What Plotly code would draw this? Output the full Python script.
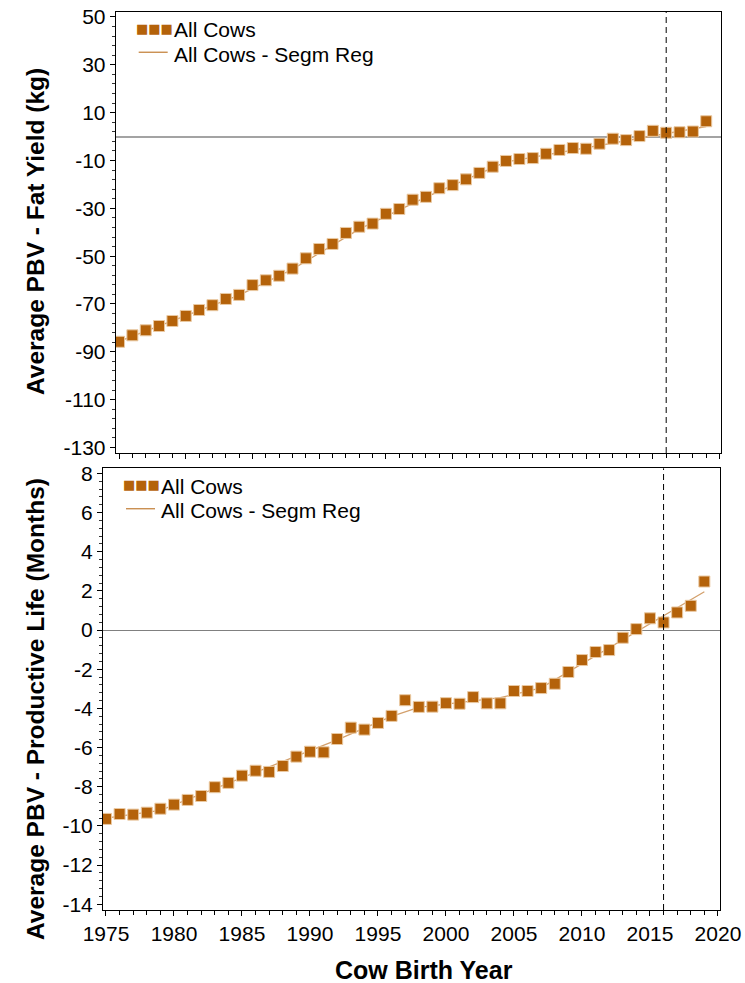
import plotly.graph_objects as go

# ---- data -------------------------------------------------------------
years = list(range(1975, 2020))

# Average PBV - Fat Yield (kg), all cows by birth year
fat_yield = [-85.8, -83.1, -81.0, -79.2, -77.1, -75.0, -72.5, -70.5, -67.9, -66.2,
             -62.1, -60.1, -58.2, -55.2, -50.9, -47.0, -44.9, -40.3, -37.7, -36.4,
             -32.3, -30.3, -26.4, -25.2, -21.6, -20.3, -17.9, -15.2, -12.6, -10.2,
             -9.4, -9.0, -7.2, -5.6, -4.8, -5.1, -3.0, -0.9, -1.5, 0.2,
             2.4, 1.6, 1.8, 2.1, 6.4]

# Segmented regression (breakpoints) for fat yield
fat_reg_years = [1975, 1984, 1988, 1993, 1998, 2004, 2019]
fat_reg_vals = [-85.6, -66.3, -55.5, -38.7, -25.3, -10.6, 4.2]

# Average PBV - Productive Life (Months), all cows by birth year
prod_life = [-9.64, -9.39, -9.42, -9.32, -9.12, -8.91, -8.67, -8.47, -8.02, -7.80,
             -7.43, -7.18, -7.24, -6.94, -6.46, -6.21, -6.24, -5.56, -4.98, -5.08,
             -4.74, -4.38, -3.58, -3.92, -3.91, -3.73, -3.76, -3.42, -3.74, -3.74,
             -3.11, -3.11, -2.96, -2.74, -2.14, -1.53, -1.12, -1.02, -0.39, 0.05,
             0.60, 0.39, 0.90, 1.24, 2.48]

# Segmented regression (breakpoints) for productive life
pl_reg_years = [1975, 1979, 1992, 1996, 1998, 2004, 2007, 2019]
pl_reg_vals = [-9.6, -9.2, -5.6, -4.4, -3.95, -3.45, -2.95, 1.96]

ref_year = 2016

# tick values / labels (plain hyphen for negatives)
fat_ticks = [50, 30, 10, -10, -30, -50, -70, -90, -110, -130]
fat_ticktext = ["50", "30", "10", "-10", "-30", "-50", "-70", "-90", "-110", "-130"]
pl_ticks = [8, 6, 4, 2, 0, -2, -4, -6, -8, -10, -12, -14]
pl_ticktext = ["8", "6", "4", "2", "0", "-2", "-4", "-6", "-8", "-10", "-12", "-14"]

series_name = "All Cows"
reg_name = "All Cows - Segm Reg"
x_title = "Cow Birth Year"
y_title_top = "Average PBV - Fat Yield (kg)"
y_title_bottom = "Average PBV - Productive Life (Months)"

# ---- styling ------------------------------------------------------------
W, H = 745, 983
FONT = "Liberation Sans, Arial, sans-serif"
MARK = "#B4620A"
MARK_EDGE = "#EAC9A2"
REG = "#D3A06C"


def px(x):
    return x / W


def py(y):
    return 1 - y / H


fig = go.Figure()

# top panel
fig.add_trace(go.Scatter(x=fat_reg_years, y=fat_reg_vals, mode="lines",
                         line=dict(color=REG, width=1.3), showlegend=False,
                         xaxis="x", yaxis="y"))
fig.add_trace(go.Scatter(x=years, y=fat_yield, mode="markers",
                         marker=dict(symbol="square", size=11, color=MARK,
                                     line=dict(color=MARK_EDGE, width=1)),
                         showlegend=False, xaxis="x", yaxis="y"))
# bottom panel
fig.add_trace(go.Scatter(x=pl_reg_years, y=pl_reg_vals, mode="lines",
                         line=dict(color=REG, width=1.3), showlegend=False,
                         xaxis="x2", yaxis="y2"))
fig.add_trace(go.Scatter(x=years, y=prod_life, mode="markers",
                         marker=dict(symbol="square", size=11, color=MARK,
                                     line=dict(color=MARK_EDGE, width=1)),
                         showlegend=False, xaxis="x2", yaxis="y2"))

tickfont = dict(family=FONT, size=21, color="black")

common_x = dict(showline=True, linecolor="black", linewidth=1, mirror=True,
                ticks="outside", ticklen=5, tickcolor="black", tickwidth=1,
                tick0=1975, dtick=5, showgrid=False, zeroline=False, automargin=False,
                minor=dict(ticks="outside", ticklen=4, dtick=1, tickcolor="black",
                           tickwidth=1, showgrid=False),
                tickfont=tickfont)
common_y = dict(showline=True, linecolor="black", linewidth=1, mirror=True,
                ticks="outside", ticklen=5, tickcolor="black", tickwidth=1,
                showgrid=False, zeroline=True, automargin=False, tickfont=tickfont,
                tickmode="array")

fig.update_layout(
    width=W, height=H,
    margin=dict(l=0, r=0, t=0, b=0, autoexpand=False),
    paper_bgcolor="white", plot_bgcolor="white",
    font=dict(family=FONT, color="black"),
    xaxis=dict(common_x, domain=[px(115.7), px(720.5)], range=[1974.75, 2020.07],
               anchor="y", showticklabels=False),
    yaxis=dict(common_y, domain=[py(453), py(11.7)], range=[-132.3, 52.2],
               anchor="x", tickvals=fat_ticks, ticktext=fat_ticktext,
               zerolinecolor="#A3A3A3", zerolinewidth=1.5,
               minor=dict(ticks="outside", ticklen=3, tick0=10, dtick=4, tickcolor="#333",
                          showgrid=False)),
    xaxis2=dict(common_x, domain=[px(103.0), px(720.4)], range=[1974.78, 2020.18],
                anchor="y2"),
    yaxis2=dict(common_y, domain=[py(910), py(468.3)], range=[-14.29, 8.26],
                anchor="x2", tickvals=pl_ticks, ticktext=pl_ticktext,
                zerolinecolor="#808080", zerolinewidth=1,
                minor=dict(ticks="outside", ticklen=3, tick0=0, dtick=0.4, tickcolor="#333",
                           showgrid=False)),
)

# vertical dashed reference line at the reference birth year
for xr, yr in (("x", "y domain"), ("x2", "y2 domain")):
    fig.add_shape(type="line", xref=xr, yref=yr, x0=ref_year, x1=ref_year, y0=0, y1=1,
                  line=dict(color="black", width=1, dash="6px,4px"))

# axis titles
title_font = dict(family=FONT, size=24.5, color="black")
fig.add_annotation(text=f"<b>{y_title_top}</b>", xref="paper", yref="paper",
                   x=px(35), y=py(232), textangle=-90, showarrow=False,
                   xanchor="center", yanchor="middle", font=title_font)
fig.add_annotation(text=f"<b>{y_title_bottom}</b>", xref="paper", yref="paper",
                   x=px(35), y=py(709), textangle=-90, showarrow=False,
                   xanchor="center", yanchor="middle", font=title_font)
fig.add_annotation(text=f"<b>{x_title}</b>", xref="paper", yref="paper",
                   x=px(424), y=py(970), showarrow=False,
                   xanchor="center", yanchor="middle", font=dict(title_font, size=25))

# in-panel legends
legend_font = dict(family=FONT, size=21, color="black")
for left, top in ((115.7, 11.7), (103.0, 468.3)):
    fig.add_annotation(text="■■■", xref="paper", yref="paper",
                       x=px(left + 19), y=py(top + 16.5), showarrow=False,
                       xanchor="left", yanchor="middle", borderpad=0,
                       font=dict(family="DejaVu Sans", size=13, color=MARK))
    fig.add_annotation(text=series_name, xref="paper", yref="paper",
                       x=px(left + 57), y=py(top + 18), showarrow=False,
                       xanchor="left", yanchor="middle", borderpad=0, font=legend_font)
    fig.add_shape(type="line", xref="paper", yref="paper",
                  x0=px(left + 23), x1=px(left + 52), y0=py(top + 40.5), y1=py(top + 40.5),
                  line=dict(color=MARK, width=1))
    fig.add_annotation(text=reg_name, xref="paper", yref="paper",
                       x=px(left + 57), y=py(top + 42.5), showarrow=False,
                       xanchor="left", yanchor="middle", borderpad=0, font=legend_font)

fig.write_html("out.html")
